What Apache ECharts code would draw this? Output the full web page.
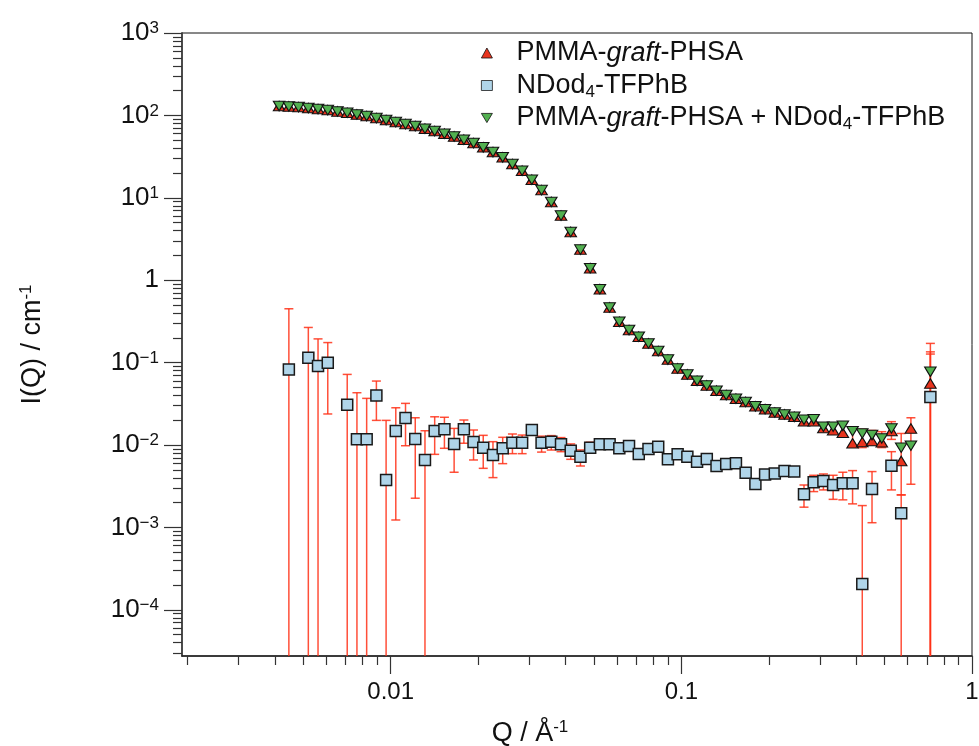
<!DOCTYPE html>
<html><head><meta charset="utf-8">
<script src="https://cdn.jsdelivr.net/npm/echarts@6/dist/echarts.min.js"></script>
<style>html,body{margin:0;padding:0;background:#fff}#c{width:979px;height:746px}</style>
</head><body><div id="c"></div>
<script>
// ---- data (Q in Å^-1, I in cm^-1) ----
const qValues = [0.004131,0.004463,0.004821,0.005207,0.005623,0.006074,0.006561,0.007086,0.007653,0.008266,
  0.008928,0.009642,0.010411,0.011245,0.012147,0.013119,0.014168,0.015305,0.016528,0.017853,
  0.019275,0.020815,0.022484,0.024285,0.026231,0.028326,0.030590,0.033045,0.035687,0.038548,
  0.041629,0.044957,0.048564,0.052446,0.056650,0.061178,0.066069,0.071368,0.077072,0.083253,
  0.089907,0.097096,0.10488,0.11326,0.12234,0.13213,0.14268,0.15412,0.16644,0.17979,
  0.19415,0.20967,0.22648,0.24458,0.26421,0.28532,0.30813,0.33281,0.35941,0.38824,
  0.41927,0.45290,0.48919,0.52829,0.57070,0.61632,0.66558,0.71912];

const mixValues = [129.7,128.5,126.1,122.7,119.3,115.9,111.7,107.7,102.8,98.1,
  92.7,87.7,82.9,78.4,74.2,68.9,64.5,59.9,55.6,50.7,
  46.2,41.0,35.9,31.0,25.7,21.3,16.6,12.4,8.90,6.08,
  3.85,2.35,1.40,0.778,0.467,0.313,0.248,0.206,0.171,0.138,
  0.109,0.0849,0.0719,0.0602,0.0529,0.0456,0.0404,0.0365,0.0333,0.0295,
  0.0272,0.0248,0.0235,0.0220,0.0203,0.0205,0.0167,0.0167,0.0171,0.0147,
  0.0138,0.0132,0.0120,0.0159,0.00929,0.0098,null,0.0774];

const pmmaValues = [129.7,128.5,126.1,122.7,119.3,115.9,111.7,107.7,102.8,98.1,
  92.7,87.7,82.9,78.4,74.2,68.9,64.5,59.9,55.6,50.7,
  46.2,41.0,35.9,31.0,25.7,21.3,16.6,12.4,8.90,6.08,
  3.85,2.35,1.40,0.778,0.467,0.313,0.248,0.206,0.171,0.138,
  0.109,0.0849,0.0719,0.0602,0.0529,0.0456,0.0404,0.0365,0.0333,0.0295,
  0.0272,0.0248,0.0235,0.0220,0.0194,0.0194,0.0161,0.0151,0.0141,0.0105,
  0.01087,0.0112,0.01077,0.0148,0.0064,0.0159,null,0.0559];

const ndodValues = [null,0.0826,null,0.1145,0.0907,0.0995,null,0.0308,0.01172,0.01172,
  0.0400,0.00377,0.01479,0.0213,0.01183,0.00658,0.01479,0.0155,0.0103,0.0155,
  0.01087,0.00929,0.00757,0.00912,0.01067,0.01067,0.0152,0.01067,0.01097,0.01019,
  0.00853,0.00722,0.00929,0.01019,0.0102,0.00912,0.00973,0.00778,0.00895,0.00954,
  0.0067,0.0077,0.00722,0.00628,0.00677,0.00556,0.00589,0.0060,0.00462,0.00337,
  0.00438,0.00452,0.00484,0.00476,0.00252,0.00353,0.00366,0.00327,0.00343,0.00343,
  0.000205,0.00293,null,0.00561,0.00149,null,null,0.0382];

// error bars: upper / lower limit (0 = lower limit below the axis)
const ndodErrHi = [null,0.45,null,0.267,0.194,0.175,null,0.0719,0.0431,0.0368,
  0.0597,0.0199,0.0283,0.032,0.0214,0.0149,0.0220,0.0217,0.0159,0.0201,
  0.0152,0.0131,0.01097,0.0124,0.0136,0.0132,null,0.0128,0.0130,0.0123,
  0.0103,0.0087,0.0108,null,null,null,null,null,null,null,
  null,null,null,null,null,null,null,null,null,null,
  null,null,null,null,0.00327,0.00429,0.00445,0.00429,0.00467,0.00489,
  0.00184,0.00476,null,0.0083,0.00248,null,null,0.127];
const ndodErrLo = [null,0,null,0,0,0.0238,null,0,0,0,
  0.0199,0,0.00123,0.0098,0.00226,0,0.0077,0.00912,0.00467,0.0105,
  0.00658,0.00521,0.00402,0.00594,0.00785,0.00785,null,0.0082,0.00869,0.0083,
  0.0067,0.00556,0.0080,null,null,null,null,null,null,null,
  null,null,null,null,null,null,null,null,null,null,
  null,null,null,null,0.00176,0.00272,0.00285,0.00219,0.00216,0.00193,
  0,0.00114,null,0.00285,0,null,null,0];
const pmmaErrHi = [null,null,null,null,null,null,null,null,null,null,
  null,null,null,null,null,null,null,null,null,null,
  null,null,null,null,null,null,null,null,null,null,
  null,null,null,null,null,null,null,null,null,null,
  null,null,null,null,null,null,null,null,null,null,
  null,null,null,null,null,null,null,null,null,0.0158,
  0.0155,0.0150,0.0145,0.0192,0.0138,0.0214,null,0.135];
const pmmaErrLo = [null,null,null,null,null,null,null,null,null,null,
  null,null,null,null,null,null,null,null,null,null,
  null,null,null,null,null,null,null,null,null,null,
  null,null,null,null,null,null,null,null,null,null,
  null,null,null,null,null,null,null,null,null,null,
  null,null,null,null,null,null,null,null,null,0.0097,
  0.0093,0.0101,0.0093,0.0117,0.00248,0.00334,null,0];
const mixErrHi = [null,null,null,null,null,null,null,null,null,null,
  null,null,null,null,null,null,null,null,null,null,
  null,null,null,null,null,null,null,null,null,null,
  null,null,null,null,null,null,null,null,null,null,
  null,null,null,null,null,null,null,null,null,null,
  null,null,null,null,null,null,null,null,null,null,
  null,null,null,null,null,null,null,0.171];
const mixErrLo = [null,null,null,null,null,null,null,null,null,null,
  null,null,null,null,null,null,null,null,null,null,
  null,null,null,null,null,null,null,null,null,null,
  null,null,null,null,null,null,null,null,null,null,
  null,null,null,null,null,null,null,null,null,null,
  null,null,null,null,null,null,null,null,null,null,
  null,null,null,null,null,null,null,0];

const seriesNames = ['PMMA-graft-PHSA', 'NDod4-TFPhB', 'PMMA-graft-PHSA + NDod4-TFPhB'];
const legendLabels = {
  'PMMA-graft-PHSA': 'PMMA-{i|graft}-PHSA',
  'NDod4-TFPhB': 'NDod{sub|4}-TFPhB',
  'PMMA-graft-PHSA + NDod4-TFPhB': 'PMMA-{i|graft}-PHSA + NDod{sub|4}-TFPhB'
};

const xMajorTicks = [0.01, 0.1, 1];
const xTickLabels = ['0.01', '0.1', '1'];
const xMinorTicks = [0.002,0.003,0.004,0.005,0.006,0.007,0.008,0.009,
  0.02,0.03,0.04,0.05,0.06,0.07,0.08,0.09,
  0.2,0.3,0.4,0.5,0.6,0.7,0.8,0.9];
const yMajorTicks = [1e-4, 1e-3, 1e-2, 1e-1, 1, 10, 100, 1000];
const yTickLabels = ['{b|10}{sup|\u22124}','{b|10}{sup|\u22123}','{b|10}{sup|\u22122}','{b|10}{sup|\u22121}',
  '{b|1}','{b|10}{sup|1}','{b|10}{sup|2}','{b|10}{sup|3}'];
const yMinorTicks = [3e-5,4e-5,5e-5,6e-5,7e-5,8e-5,9e-5,
  2e-4,3e-4,4e-4,5e-4,6e-4,7e-4,8e-4,9e-4,
  2e-3,3e-3,4e-3,5e-3,6e-3,7e-3,8e-3,9e-3,
  0.02,0.03,0.04,0.05,0.06,0.07,0.08,0.09,
  0.2,0.3,0.4,0.5,0.6,0.7,0.8,0.9,
  2,3,4,5,6,7,8,9,
  20,30,40,50,60,70,80,90,
  200,300,400,500,600,700,800,900];

const X_MIN = 0.001914, X_MAX = 1, Y_MIN = 2.75e-5, Y_MAX = 1000;

// ---- build ----
const FONT = '"Liberation Sans", Arial, Helvetica, sans-serif';
const ERR_COLOR = 'rgba(255,48,22,0.85)';
function pairs(vals) {
  return qValues.map((q, i) => vals[i] == null ? null : [q, vals[i]]).filter(Boolean);
}
function errData(hi, lo) {
  return qValues.map((q, i) => hi[i] == null ? null : [q, lo[i], hi[i]]).filter(Boolean);
}
function renderErr(params, api) {
  const x = api.value(0), lo = api.value(1), hi = api.value(2);
  const cs = params.coordSys;
  const top = api.coord([x, hi]);
  let bot, capBot = true;
  if (lo > 0) { bot = api.coord([x, lo]); }
  else { bot = [top[0], cs.y + cs.height]; capBot = false; }
  const w = 4.5;
  const st = { stroke: ERR_COLOR, lineWidth: 1.5 };
  const ch = [
    { type: 'line', shape: { x1: top[0], y1: top[1], x2: bot[0], y2: bot[1] }, style: st },
    { type: 'line', shape: { x1: top[0] - w, y1: top[1], x2: top[0] + w, y2: top[1] }, style: st }
  ];
  if (capBot) ch.push({ type: 'line', shape: { x1: bot[0] - w, y1: bot[1], x2: bot[0] + w, y2: bot[1] }, style: st });
  return { type: 'group', children: ch };
}
function errSeries(name, hi, lo) {
  return { type: 'custom', name: name, renderItem: renderErr, data: errData(hi, lo),
    encode: { x: 0, y: 2 }, z: 1, silent: true, xAxisIndex: 0, yAxisIndex: 0 };
}

const DOWN_TRI = 'path://M0,0L12,0L6,10Z';
const chart = echarts.init(document.getElementById('c'), null, { renderer: 'canvas' });
const option = {
  animation: false,
  backgroundColor: '#fff',
  grid: { left: 182, right: 7, top: 33, bottom: 90, containLabel: false, outerBoundsMode: 'none',
    show: true, borderColor: '#111', borderWidth: 1 },
  legend: {
    data: seriesNames, orient: 'vertical', left: 476, top: 33, itemGap: 2.5,
    itemWidth: 11, itemHeight: 10, selectedMode: false,
    itemStyle: { borderWidth: 0.8 },
    formatter: n => legendLabels[n],
    textStyle: { fontFamily: FONT, fontSize: 27, lineHeight: 30, color: '#111', padding: [0, 0, 0, 19],
      rich: {
        i: { fontFamily: FONT, fontSize: 27, fontStyle: 'italic', color: '#111', lineHeight: 30 },
        sub: { fontFamily: FONT, fontSize: 17, color: '#111', verticalAlign: 'bottom', lineHeight: 17 }
      } }
  },
  xAxis: [
    { type: 'log', min: X_MIN, max: X_MAX, position: 'bottom',
      axisLine: { show: true, lineStyle: { color: '#222', width: 1.5 } },
      axisTick: { show: true, inside: false, length: 18, customValues: xMajorTicks, lineStyle: { color: '#333', width: 1.2 } },
      axisLabel: { show: true, customValues: xMajorTicks, margin: 24,
        formatter: v => xTickLabels[xMajorTicks.findIndex(t => Math.abs(t - v) / t < 1e-6)],
        fontFamily: FONT, fontSize: 24, color: '#111' },
      splitLine: { show: false }, minorTick: { show: false },
      name: 'Q / \u00C5{sup|-1}', nameLocation: 'middle', nameGap: 63,
      nameTextStyle: { fontFamily: FONT, fontSize: 27, color: '#111', padding: [0, 94, 0, 0], lineHeight: 30,
        rich: { sup: { fontFamily: FONT, fontSize: 17, color: '#111', verticalAlign: 'top', lineHeight: 18 } } } },
    { type: 'log', min: X_MIN, max: X_MAX, position: 'bottom',
      axisLine: { show: false },
      axisTick: { show: true, inside: false, length: 9, customValues: xMinorTicks, lineStyle: { color: '#333', width: 1.2 } },
      axisLabel: { show: false }, splitLine: { show: false } }
  ],
  yAxis: [
    { type: 'log', min: Y_MIN, max: Y_MAX, position: 'left',
      axisLine: { show: true, lineStyle: { color: '#444', width: 1.8 } },
      axisTick: { show: true, inside: false, length: 18, customValues: yMajorTicks, lineStyle: { color: '#333', width: 1.2 } },
      axisLabel: { show: true, customValues: yMajorTicks, margin: 23,
        formatter: v => yTickLabels[yMajorTicks.findIndex(t => Math.abs(t - v) / t < 1e-6)],
        color: '#111',
        rich: {
          b: { fontFamily: FONT, fontSize: 26, color: '#111', lineHeight: 26 },
          sup: { fontFamily: FONT, fontSize: 17, color: '#111', verticalAlign: 'top', lineHeight: 15 }
        } },
      splitLine: { show: false }, minorTick: { show: false },
      name: 'I(Q) / cm{sup|-1}', nameLocation: 'middle', nameGap: 134, nameRotate: 90,
      nameTextStyle: { fontFamily: FONT, fontSize: 27, color: '#111', lineHeight: 30,
        rich: { sup: { fontFamily: FONT, fontSize: 17, color: '#111', verticalAlign: 'top', lineHeight: 18 } } } },
    { type: 'log', min: Y_MIN, max: Y_MAX, position: 'left',
      axisLine: { show: false },
      axisTick: { show: true, inside: false, length: 9, customValues: yMinorTicks, lineStyle: { color: '#333', width: 1.2 } },
      axisLabel: { show: false }, splitLine: { show: false } }
  ],
  series: [
    errSeries('err-ndod', ndodErrHi, ndodErrLo),
    errSeries('err-pmma', pmmaErrHi, pmmaErrLo),
    errSeries('err-mix', mixErrHi, mixErrLo),
    { type: 'scatter', name: seriesNames[0], data: pairs(pmmaValues), symbol: 'triangle', symbolSize: [11.5, 9.5],
      itemStyle: { color: 'rgb(232,52,30)', borderColor: '#111', borderWidth: 1.1, opacity: 1 }, z: 2 },
    { type: 'scatter', name: seriesNames[1], data: pairs(ndodValues), symbol: 'rect', symbolSize: 11,
      itemStyle: { color: 'rgb(176,213,233)', borderColor: '#1a1a1a', borderWidth: 1.5, opacity: 1 }, z: 3 },
    { type: 'scatter', name: seriesNames[2], data: pairs(mixValues), symbol: DOWN_TRI, symbolSize: [11.5, 9.5],
      itemStyle: { color: 'rgb(82,176,80)', borderColor: '#111', borderWidth: 1.1, opacity: 1 }, z: 4 }
  ]
};
chart.setOption(option);
</script>
</body></html>
